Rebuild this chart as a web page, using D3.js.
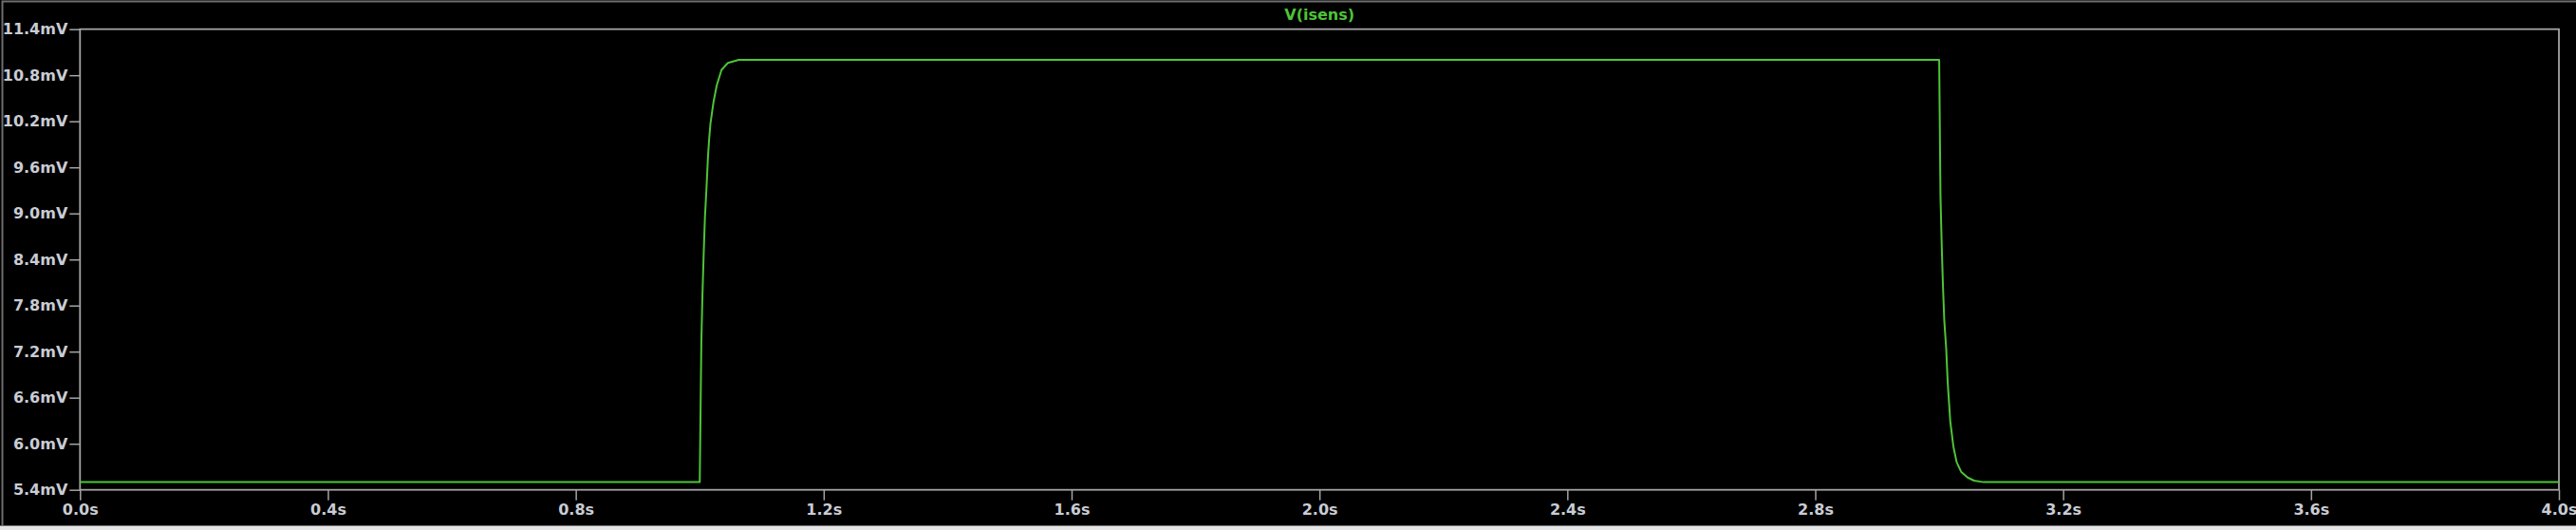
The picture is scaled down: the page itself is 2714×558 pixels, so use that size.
<!DOCTYPE html>
<html>
<head>
<meta charset="utf-8">
<script src="https://cdn.jsdelivr.net/npm/d3@7"></script>
<style>
html,body{margin:0;padding:0;background:#000;}
svg{display:block;}
</style>
</head>
<body>
<svg id="chart" width="2714" height="558"></svg>
<script>
// Data (time in s, voltage in mV)
const times = [0, 1.0, 1.0026, 1.0044, 1.0064, 1.0083, 1.0107, 1.0133, 1.0153, 1.0173, 1.0224, 1.0275, 1.0352, 1.0454, 1.063,
  3.0, 3.0021, 3.0041, 3.0061, 3.0082, 3.0113, 3.0138, 3.0179, 3.0230, 3.0282, 3.0358, 3.0459, 3.0562, 3.0715, 4.0];
const values = [5.5, 5.5, 7.33, 7.94, 8.48, 8.93, 9.30, 9.74, 9.98, 10.17, 10.46, 10.67, 10.87, 10.96, 11.0,
  11.0, 9.22, 8.58, 8.05, 7.61, 7.24, 6.79, 6.29, 5.96, 5.76, 5.63, 5.56, 5.52, 5.50, 5.50];
const xTicks = [0, 0.4, 0.8, 1.2, 1.6, 2.0, 2.4, 2.8, 3.2, 3.6, 4.0];
const yTicks = [5.4, 6.0, 6.6, 7.2, 7.8, 8.4, 9.0, 9.6, 10.2, 10.8, 11.4];
const seriesName = "V(isens)";

(function(){
const svg = d3.select("#chart");
const W = 2714, H = 558;
const mLeft = 84.3, mRight = 2696, mTop = 30.7, mBottom = 515.7;

svg.append("rect").attr("x",0).attr("y",0).attr("width",W).attr("height",H).attr("fill","#000");
svg.append("rect").attr("x",0).attr("y",553.5).attr("width",W).attr("height",H-553.5).attr("fill","#e6e6e6");
svg.append("path").attr("d",`M2.5,553 L2.5,1.5 L${W},1.5`).attr("fill","none").attr("stroke","#6e6e6e").attr("stroke-width",2);

const x = d3.scaleLinear().domain([0,4]).range([mLeft,mRight]);
const y = d3.scaleLinear().domain([5.4,11.4]).range([mBottom,mTop]);

const gridColor = "#a4a4a4";
const labelColor = "#c9ccd4";
const font = "'DejaVu Sans', Verdana, sans-serif";

const xAxis = d3.axisBottom(x).tickValues(xTicks).tickFormat(d => d3.format(".1f")(d) + "s").tickSizeOuter(0).tickSize(11).tickPadding(4);
const gx = svg.append("g").attr("transform",`translate(0,${mBottom})`).call(xAxis);
gx.select(".domain").remove();
gx.selectAll(".tick line").attr("stroke",gridColor).attr("stroke-width",1.5);
gx.selectAll(".tick text").attr("fill",labelColor).attr("font-family",font).attr("font-weight","bold").attr("font-size","16px");

const yAxis = d3.axisLeft(y).tickValues(yTicks).tickFormat(d => d3.format(".1f")(d) + "mV").tickSizeOuter(0).tickSize(11).tickPadding(2);
const gy = svg.append("g").attr("transform",`translate(${mLeft},0)`).call(yAxis);
gy.select(".domain").remove();
gy.selectAll(".tick line").attr("stroke",gridColor).attr("stroke-width",1.5);
gy.selectAll(".tick text").attr("fill",labelColor).attr("font-family",font).attr("font-weight","bold").attr("font-size","16px");

svg.append("rect").attr("x",mLeft).attr("y",mTop).attr("width",mRight-mLeft).attr("height",mBottom-mTop)
  .attr("fill","none").attr("stroke",gridColor).attr("stroke-width",1.8);

const data = times.map((t,i) => ({t, v: values[i]}));
const line = d3.line().x(d => x(d.t)).y(d => y(d.v));
svg.append("path").datum(data).attr("d",line).attr("fill","none")
  .attr("stroke","#4ec437").attr("stroke-width",2).attr("stroke-linejoin","round");

svg.append("text").attr("x",(mLeft+mRight)/2).attr("y",21).attr("text-anchor","middle")
  .attr("fill","#4ec437").attr("font-family",font).attr("font-weight","bold").attr("font-size","16px")
  .text(seriesName);
})();
</script>
</body>
</html>
